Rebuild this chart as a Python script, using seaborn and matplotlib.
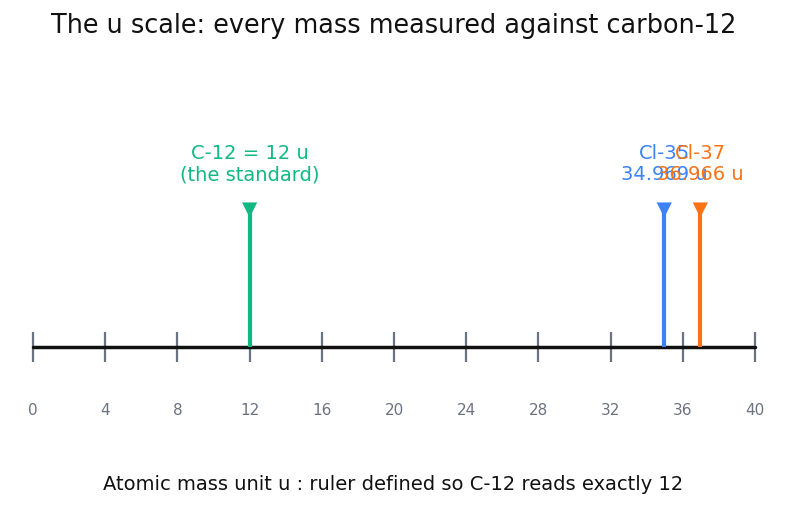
import matplotlib
matplotlib.use("Agg")
import matplotlib.pyplot as plt
import seaborn as sns
import pandas as pd

# isotopes placed on the u ruler
isotopes = ["C-12", "Cl-35", "Cl-37"]
masses = [12.0, 34.969, 36.966]
labels = ["C-12 = 12 u\n(the standard)", "Cl-35\n34.969 u", "Cl-37\n36.966 u"]
colors = ["#10b981", "#3b82f6", "#f97316"]
ticks = [0, 4, 8, 12, 16, 20, 24, 28, 32, 36, 40]

df = pd.DataFrame({"isotope": isotopes, "mass": masses, "top": [1.0] * 3})

sns.set_style("white")
fig = plt.figure(figsize=(7.87, 5.12), dpi=100)
ax = fig.add_axes([0, 0, 1, 1])
ax.axis("off")

# ruler
ax.plot([ticks[0], ticks[-1]], [0, 0], color="#111111", lw=2.5, zorder=2)
ax.vlines(ticks, -0.11, 0.11, color="#6b7280", lw=1.6, zorder=1)
for t in ticks:
    ax.text(t, -0.46, str(t), ha="center", va="center", fontsize=11, color="#6b7280")

# stems + markers
ax.vlines(df["mass"], 0, df["top"], colors=colors, lw=3, zorder=3)
sns.scatterplot(data=df, x="mass", y="top", hue="isotope", palette=colors,
                marker="v", s=120, edgecolor="none", legend=False, ax=ax, zorder=4)
ax.set_xlim(-1.83, 41.77)
ax.set_ylim(-1.204, 2.533)

for m, lab, c in zip(masses, labels, colors):
    ax.text(m, 1.335, lab, ha="center", va="center", fontsize=14, color=c,
            linespacing=1.15)

fig.text(0.5, 0.949, "The u scale: every mass measured against carbon-12",
         ha="center", va="center", fontsize=18.4, color="#111111")
fig.text(0.5, 0.053, "Atomic mass unit u : ruler defined so C-12 reads exactly 12",
         ha="center", va="center", fontsize=14, color="#111111")

fig.savefig("out.png", dpi=100)
